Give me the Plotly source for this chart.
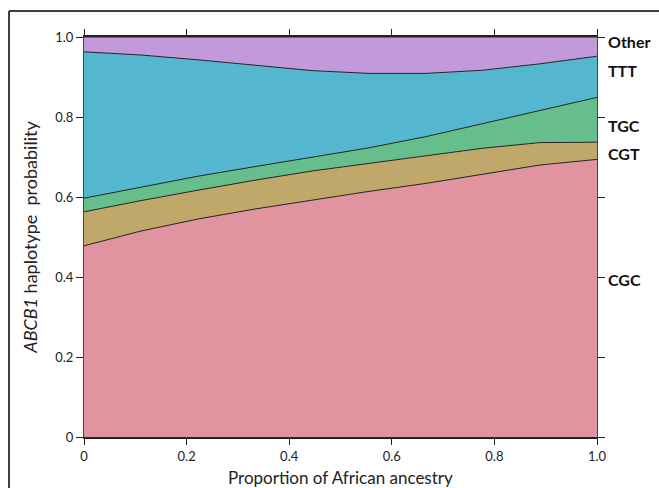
import plotly.graph_objects as go

ancestry = [0, 1/9, 2/9, 3/9, 4/9, 5/9, 6/9, 7/9, 8/9, 1.0]
haplotypes = ["CGC", "CGT", "TGC", "TTT", "Other"]
cgc = [0.478, 0.515, 0.545, 0.570, 0.592, 0.614, 0.634, 0.657, 0.680, 0.694]
cgt = [0.085, 0.076, 0.072, 0.072, 0.073, 0.070, 0.069, 0.065, 0.056, 0.043]
tgc = [0.034, 0.034, 0.035, 0.034, 0.034, 0.039, 0.048, 0.062, 0.080, 0.112]
ttt = [0.366, 0.330, 0.291, 0.254, 0.217, 0.186, 0.158, 0.133, 0.117, 0.103]
other = [0.037, 0.045, 0.057, 0.070, 0.084, 0.091, 0.091, 0.083, 0.067, 0.048]
label_y = [0.395, 0.71, 0.78, 0.9175, 0.988]
tick_vals = [0, 0.2, 0.4, 0.6, 0.8, 1.0]
tick_text = ["0", "0.2", "0.4", "0.6", "0.8", "1.0"]

colors = ["#E293A0", "#BFA86A", "#66BE8C", "#55B7CF", "#C29ADC"]
series = [cgc, cgt, tgc, ttt, other]

fig = go.Figure()
for name, vals, col in zip(haplotypes, series, colors):
    fig.add_trace(go.Scatter(
        x=ancestry, y=vals, name=name, stackgroup="one", mode="lines",
        line=dict(color="#222222", width=1), fillcolor=col, hoverinfo="skip"))

for name, yv in zip(haplotypes, label_y):
    fig.add_annotation(x=1, xref="paper", y=yv, yref="y", text="<b>%s</b>" % name,
                       showarrow=False, xanchor="left", xshift=9,
                       font=dict(family="Lato", size=16, color="#111111"))

# x-axis title placed as annotation below tick labels
fig.add_annotation(x=0.5, xref="paper", y=(437 - 477) / 400, yref="paper",
                   text="Proportion of African ancestry", showarrow=False,
                   xanchor="center", yanchor="middle",
                   font=dict(family="Lato", size=17, color="#222222"))

# outer frame (top and left edges visible)
fig.add_shape(type="line", xref="paper", yref="paper", x0=(9 - 84) / 513, x1=1.2,
              y0=(437 - 11) / 400, y1=(437 - 11) / 400, line=dict(color="black", width=1.5))
fig.add_shape(type="line", xref="paper", yref="paper", x0=(9 - 84) / 513, x1=(9 - 84) / 513,
              y0=(437 - 11) / 400, y1=-0.2, line=dict(color="black", width=1.5))

fig.update_layout(
    width=659, height=488, margin=dict(l=84, r=62, t=37, b=51),
    plot_bgcolor="white", paper_bgcolor="white", showlegend=False,
    font=dict(family="Lato", color="#222222"),
)
fig.update_xaxes(range=[0, 1], tickvals=tick_vals, ticktext=tick_text, automargin=False,
                 showgrid=False, zeroline=False, showline=True, linecolor="#222222", linewidth=1.5,
                 ticks="outside", ticklen=6, tickcolor="#222222", mirror="ticks",
                 tickfont=dict(size=13, family="Lato"), ticklabelstandoff=1)
fig.update_yaxes(range=[0, 1], tickvals=tick_vals, ticktext=tick_text, automargin=False,
                 showgrid=False, zeroline=False, showline=True, linecolor="#444444", linewidth=1,
                 ticks="outside", ticklen=7, tickcolor="#222222", mirror="ticks",
                 tickfont=dict(size=13, family="Lato"),
                 title=dict(text="<i>ABCB1</i> haplotype  probability", font=dict(size=18, family="Lato"), standoff=12))

fig.write_html("out.html")
